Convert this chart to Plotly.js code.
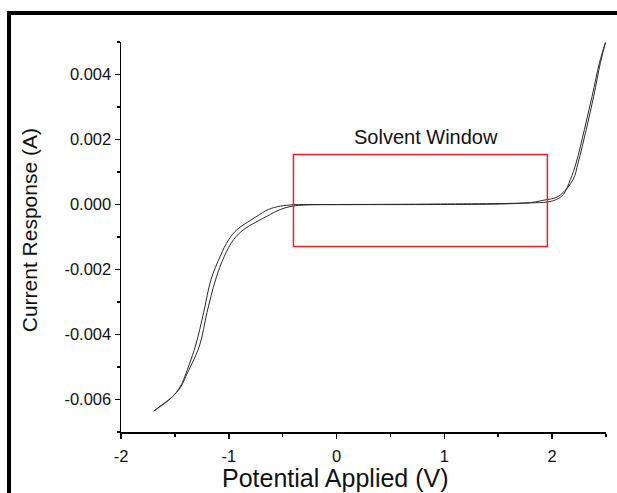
<!DOCTYPE html>
<html>
<head>
<meta charset="utf-8">
<script src="https://cdn.plot.ly/plotly-3.0.1.min.js"></script>
<style>
  html, body { margin: 0; padding: 0; background: #ffffff; overflow: hidden; }
  #frame { position: absolute; left: 7px; top: 11px; width: 700px; height: 600px; border: 4px solid #000; box-sizing: border-box; }
  #chart { position: absolute; left: 0; top: 0; width: 617px; height: 493px; }
</style>
</head>
<body>
<div id="frame"></div>
<div id="chart"></div>
<script>
// Cyclic voltammogram: two sweep branches (potential in V, current in A)
const sweep1Potential = [-1.697, -1.635, -1.561, -1.487, -1.440, -1.419, -1.310, -1.233, -1.165, -1.079, -1.001, -0.923, -0.831, -0.738, -0.633, -0.522, -0.401, -0.200, 0.000, 0.500, 0.963, 1.520, 1.800, 1.956, 2.040, 2.105, 2.170, 2.223, 2.300, 2.371, 2.439, 2.495];
const sweep1Current = [-0.00636, -0.006215, -0.00603, -0.005785, -0.00554, -0.005385, -0.00436, -0.00332, -0.00231, -0.00159, -0.00108, -0.00077, -0.000554, -0.00036, -0.000154, -0.000052, -0.000009, 0.0, 0.0, 0.000005, 0.000015, 0.00003, 0.00005, 0.000077, 0.000154, 0.00031, 0.00077, 0.00128, 0.00231, 0.00333, 0.00436, 0.00498];

const sweep2Potential = [-1.697, -1.626, -1.542, -1.468, -1.430, -1.400, -1.273, -1.202, -1.122, -1.041, -0.955, -0.862, -0.754, -0.645, -0.522, -0.413, -0.290, 0.000, 0.500, 0.963, 1.520, 1.800, 1.956, 2.010, 2.080, 2.195, 2.241, 2.317, 2.386, 2.448, 2.495];
const sweep2Current = [-0.00636, -0.00618, -0.00597, -0.00572, -0.00552, -0.00530, -0.00436, -0.00332, -0.00231, -0.00159, -0.00108, -0.00077, -0.000554, -0.00036, -0.000154, -0.000052, -0.000015, -0.000006, -0.000003, 0.0, 0.000015, 0.00006, 0.000154, 0.000185, 0.00030, 0.00077, 0.00128, 0.00231, 0.00333, 0.00436, 0.00498];

const xTickVals = [-2, -1, 0, 1, 2];
const xTickText = ['-2', '-1', '0', '1', '2'];
const yTickVals = [-0.006, -0.004, -0.002, 0, 0.002, 0.004];
const yTickText = ['-0.006', '-0.004', '-0.002', '0.000', '0.002', '0.004'];

const xTitle = 'Potential Applied (V)';
const yTitle = 'Current Response (A)';
const annotationText = 'Solvent Window';
const windowBox = { x0: -0.40, x1: 1.956, y0: -0.00129, y1: 0.00154 };
const labelPos = { x: 0.829, y: 0.00209 };

const lineStyle = { color: '#2a2a2a', width: 1, shape: 'spline', smoothing: 1 };

const traces = [
  { x: sweep1Potential, y: sweep1Current, type: 'scatter', mode: 'lines', line: lineStyle, hoverinfo: 'skip' },
  { x: sweep2Potential, y: sweep2Current, type: 'scatter', mode: 'lines', line: lineStyle, hoverinfo: 'skip' }
];

const fontFamily = '"Liberation Sans", Arial, sans-serif';

const layout = {
  width: 617, height: 493,
  margin: { l: 121, r: 11.4, t: 42, b: 61, pad: 0 },
  paper_bgcolor: 'rgba(0,0,0,0)',
  plot_bgcolor: 'rgba(0,0,0,0)',
  showlegend: false,
  font: { family: fontFamily, color: '#111', size: 16 },
  xaxis: {
    range: [-2, 2.5],
    tickvals: xTickVals, ticktext: xTickText,
    ticks: 'outside', ticklen: 5, tickwidth: 1.5, tickcolor: '#000',
    ticklabelstandoff: 4,
    minor: { dtick: 0.5, ticks: 'outside', ticklen: 3, tickwidth: 1.5, tickcolor: '#000' },
    showline: true, linecolor: '#000', linewidth: 1.5,
    showgrid: false, zeroline: false,
    tickfont: { size: 16.5, family: fontFamily, color: '#111' }
  },
  yaxis: {
    range: [-0.007, 0.005],
    tickvals: yTickVals, ticktext: yTickText,
    ticks: 'outside', ticklen: 5, tickwidth: 1.5, tickcolor: '#000',
    minor: { dtick: 0.001, ticks: 'outside', ticklen: 3, tickwidth: 1.5, tickcolor: '#000' },
    showline: true, linecolor: '#000', linewidth: 1.5,
    showgrid: false, zeroline: false,
    tickfont: { size: 16.5, family: fontFamily, color: '#111' }
  },
  shapes: [
    { type: 'rect', xref: 'x', yref: 'y', x0: windowBox.x0, x1: windowBox.x1, y0: windowBox.y0, y1: windowBox.y1,
      line: { color: '#e8202a', width: 1.5 }, fillcolor: 'rgba(0,0,0,0)' }
  ],
  annotations: [
    { x: labelPos.x, y: labelPos.y, xref: 'x', yref: 'y', text: annotationText, showarrow: false,
      font: { size: 20, family: fontFamily, color: '#111' } },
    { x: 0.442, y: -0.118, xref: 'paper', yref: 'paper', xanchor: 'center', yanchor: 'middle',
      text: xTitle, showarrow: false, font: { size: 25, family: fontFamily, color: '#111' } },
    { x: -0.187, y: 0.518, xref: 'paper', yref: 'paper', xanchor: 'center', yanchor: 'middle', textangle: -90,
      text: yTitle, showarrow: false, font: { size: 21, family: fontFamily, color: '#111' } }
  ]
};

Plotly.newPlot('chart', traces, layout, { staticPlot: true, displayModeBar: false });
</script>
</body>
</html>
